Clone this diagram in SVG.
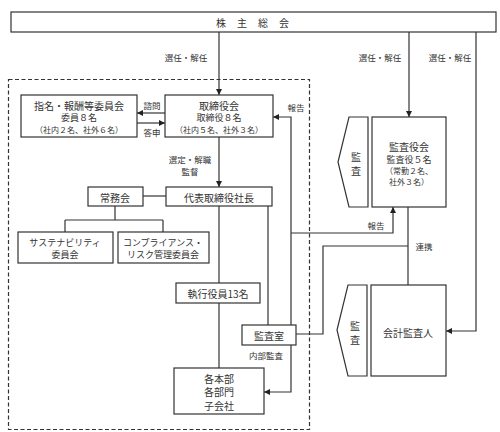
<svg xmlns="http://www.w3.org/2000/svg" width="500" height="432" viewBox="0 0 500 432">
<defs>
<marker id="ah" viewBox="0 0 10 10" refX="10" refY="5" markerWidth="6" markerHeight="6" markerUnits="userSpaceOnUse" orient="auto">
<path d="M0,0 L10,5 L0,10 z" fill="#222"/>
</marker>
<style>
.box{fill:#fff;stroke:#333;stroke-width:1.2}
.ln{fill:none;stroke:#333;stroke-width:1.2}
.arr{fill:none;stroke:#333;stroke-width:1.2;marker-end:url(#ah)}
text{font-family:"Noto Sans CJK JP","Liberation Sans",sans-serif;fill:#333;text-anchor:middle;dominant-baseline:central}
.t{font-size:10px}
.s{font-size:9px}
.xs{font-size:8px}
.l{font-size:8.5px}
</style>
</defs>
<rect width="500" height="432" fill="#fff"/>
<rect x="8.5" y="79.5" width="301" height="350" fill="none" stroke="#333" stroke-width="1.2" stroke-dasharray="4,2.5"/>

<g id="connectors">
<path class="arr" d="M219,32 V95"/>
<path class="arr" d="M409,32 V117"/>
<path class="arr" d="M476,32 V331 H446"/>
<path class="arr" d="M165,113 H137"/>
<path class="arr" d="M136,123 H165"/>
<path class="arr" d="M219,137 V187"/>
<path class="ln" d="M143,196 H166"/>
<path class="ln" d="M115,206 V220 M65,220 H163 M65,220 V232 M163,220 V232"/>
<path class="ln" d="M219,206 V283"/>
<path class="ln" d="M219,303 V368"/>
<path class="ln" d="M268,206 V325"/>
<path class="arr" d="M291,325 V117 H273"/>
<path class="arr" d="M291,233 H393 V207"/>
<path class="arr" d="M291,345 V392 H264"/>
<path class="ln" d="M296,334 H323 V246 H408"/>
<path class="ln" d="M408,207 V285"/>
<text class="l" x="186" y="57">選任・解任</text>
<text class="l" x="380" y="57">選任・解任</text>
<text class="l" x="450" y="57">選任・解任</text>
<text class="l" x="152" y="105">諮問</text>
<text class="l" x="152" y="132">答申</text>
<text class="l" x="190" y="159">選定・解職</text>
<text class="l" x="190" y="171">監督</text>
<text class="l" x="296" y="107">報告</text>
<text class="l" x="376" y="225">報告</text>
<text class="l" x="424" y="246">連携</text>
<text class="l" x="266" y="355">内部監査</text>
</g>

<g id="agm">
<rect class="box" x="11" y="12" width="485" height="20"/>
<text class="t" x="258" y="22" letter-spacing="11">株主総会</text>
</g>

<g id="nomination">
<rect class="box" x="21" y="95" width="116" height="42"/>
<text class="t" x="79" y="105">指名・報酬等委員会</text>
<text class="s" x="79" y="117.5">委員８名</text>
<text class="xs" x="79" y="129.5">（社内２名、社外６名）</text>
</g>

<g id="board">
<rect class="box" x="165" y="95" width="108" height="42"/>
<text class="t" x="219" y="105">取締役会</text>
<text class="s" x="219" y="117.5">取締役８名</text>
<text class="xs" x="219" y="129.5">（社内５名、社外３名）</text>
</g>

<g id="president">
<rect class="box" x="166" y="187" width="106" height="19"/>
<text class="t" x="219" y="197">代表取締役社長</text>
</g>

<g id="jomukai">
<rect class="box" x="88" y="187" width="55" height="19"/>
<text class="t" x="115" y="197">常務会</text>
</g>

<g id="sustainability">
<rect class="box" x="18" y="232" width="95" height="31"/>
<text class="s" x="65" y="242">サステナビリティ</text>
<text class="s" x="65" y="254">委員会</text>
</g>

<g id="compliance">
<rect class="box" x="118" y="232" width="91" height="31"/>
<text class="s" x="163" y="242">コンプライアンス・</text>
<text class="s" x="163" y="254">リスク管理委員会</text>
</g>

<g id="officers">
<rect class="box" x="176" y="283" width="84" height="20"/>
<text class="t" x="218" y="293">執行役員13名</text>
</g>

<g id="audit-office">
<rect class="box" x="242" y="325" width="54" height="20"/>
<text class="t" x="269" y="335">監査室</text>
</g>

<g id="divisions">
<rect class="box" x="174" y="368" width="90" height="46"/>
<text class="t" x="219" y="378">各本部</text>
<text class="t" x="219" y="391.5">各部門</text>
<text class="t" x="219" y="405">子会社</text>
</g>

<g id="auditors-board">
<rect class="box" x="372" y="117" width="74" height="90"/>
<text class="t" x="409" y="146">監査役会</text>
<text class="s" x="409" y="159">監査役５名</text>
<text class="xs" x="409" y="170.5">（常勤２名、</text>
<text class="xs" x="409" y="181">社外３名）</text>
</g>

<g id="audit-tag-1">
<polygon class="box" points="349,117 368,117 368,207 349,207 338,162"/>
<text class="t" x="356" y="156">監</text>
<text class="t" x="356" y="170">査</text>
</g>

<g id="accounting-auditor">
<rect class="box" x="371" y="285" width="75" height="91"/>
<text class="t" x="408" y="332">会計監査人</text>
</g>

<g id="audit-tag-2">
<polygon class="box" points="348,285 367,285 367,376 348,376 337,330"/>
<text class="t" x="355" y="325">監</text>
<text class="t" x="355" y="339">査</text>
</g>
</svg>
